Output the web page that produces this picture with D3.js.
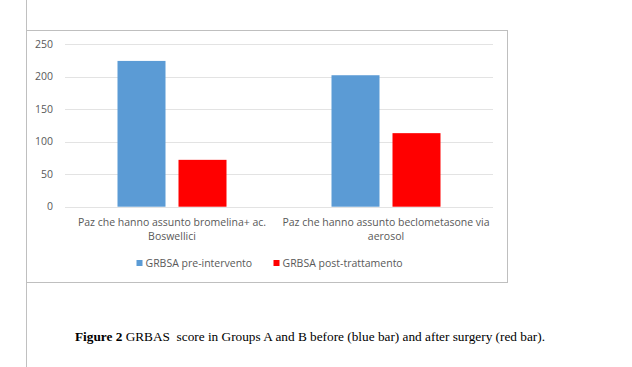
<!DOCTYPE html>
<html>
<head>
<meta charset="utf-8">
<script src="https://cdn.jsdelivr.net/npm/d3@7"></script>
<style>
  body { margin: 0; background: #fff; }
  svg { display: block; }
</style>
</head>
<body>
<svg width="632" height="367"></svg>
<script>
const categories = [
  ["Paz che hanno assunto bromelina+ ac.", "Boswellici"],
  ["Paz che hanno assunto beclometasone via", "aerosol"]
];
const seriesNames = ["GRBSA pre-intervento", "GRBSA post-trattamento"];
const preValues = [224, 202];
const postValues = [72, 113];
const yTicks = [0, 50, 100, 150, 200, 250];
const colors = ["#5b9bd5", "#ff0000"];

const svg = d3.select("svg");
const font = "Open Sans, Liberation Sans, sans-serif";

// page margin line + chart frame
svg.append("line")
  .attr("x1", 26.5).attr("x2", 26.5).attr("y1", 0).attr("y2", 367)
  .attr("stroke", "#c0c0c0").attr("stroke-width", 1);
svg.append("rect")
  .attr("x", 26.5).attr("y", 30.5).attr("width", 481).attr("height", 252)
  .attr("fill", "none").attr("stroke", "#bfbfbf").attr("stroke-width", 1);

const x0 = d3.scaleBand().domain(d3.range(categories.length)).range([65, 493]);
const y = d3.scaleLinear().domain([0, 250]).range([206.7, 44]);

// gridlines
svg.append("g").selectAll("line")
  .data(yTicks)
  .join("line")
    .attr("x1", 65).attr("x2", 493)
    .attr("y1", d => Math.round(y(d)) + 0.5)
    .attr("y2", d => Math.round(y(d)) + 0.5)
    .attr("stroke", "#e3e3e3");

// y tick labels
svg.append("g").selectAll("text")
  .data(yTicks)
  .join("text")
    .attr("x", 53)
    .attr("y", d => y(d))
    .attr("dy", "0.35em")
    .attr("text-anchor", "end")
    .attr("font-family", font)
    .attr("font-size", 10.5)
    .attr("fill", "#595959")
    .text(d => d);

// bars
const barW = 48, gap = 13;
const rows = categories.map((c, i) => [preValues[i], postValues[i]]);
const groups = svg.append("g").selectAll("g")
  .data(rows)
  .join("g")
    .attr("transform", (d, i) => `translate(${x0(i) + x0.bandwidth() / 2},0)`);

groups.selectAll("rect")
  .data(d => d)
  .join("rect")
    .attr("x", (d, j) => j === 0 ? -barW - gap / 2 : gap / 2)
    .attr("y", d => y(d))
    .attr("width", barW)
    .attr("height", d => y(0) - y(d))
    .attr("fill", (d, j) => colors[j]);

// category labels
svg.append("g").selectAll("text")
  .data(categories)
  .join("text")
    .attr("text-anchor", "middle")
    .attr("font-family", font)
    .attr("font-size", 10.5)
    .attr("fill", "#595959")
    .each(function(lines, i) {
      d3.select(this).selectAll("tspan")
        .data(lines)
        .join("tspan")
          .attr("x", x0(i) + x0.bandwidth() / 2)
          .attr("y", (l, k) => 226 + k * 14)
          .text(l => l);
    });

// legend
const legendX = [136.5, 273.5];
const legend = svg.append("g").selectAll("g")
  .data(seriesNames)
  .join("g")
    .attr("transform", (d, i) => `translate(${legendX[i]},260)`);
legend.append("rect")
  .attr("width", 6).attr("height", 6)
  .attr("fill", (d, i) => colors[i]);
legend.append("text")
  .attr("x", 9).attr("y", 3)
  .attr("dy", "0.35em")
  .attr("font-family", font)
  .attr("font-size", 10.5)
  .attr("fill", "#595959")
  .text(d => d);

// caption
const cap = svg.append("text")
  .attr("x", 75).attr("y", 341)
  .attr("font-family", "Liberation Serif, Times New Roman, serif")
  .attr("font-size", 13.3)
  .attr("fill", "#000")
  .style("white-space", "pre")
  .attr("textLength", 470)
  .attr("lengthAdjust", "spacing");
cap.append("tspan").attr("font-weight", "bold").text("Figure 2 ");
cap.append("tspan").text("GRBAS  score in Groups A and B before (blue bar) and after surgery (red bar).");
</script>
</body>
</html>
